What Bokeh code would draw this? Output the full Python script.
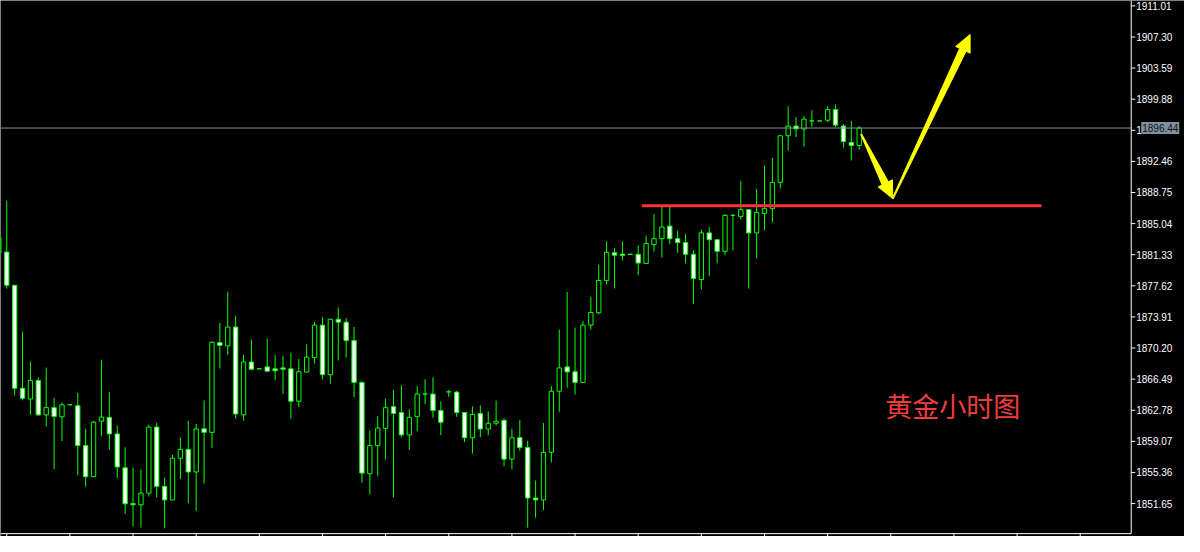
import math
from bokeh.plotting import figure
from bokeh.models import Range1d, ColumnDataSource
from bokeh.core.properties import value
from bokeh.embed import file_html
from bokeh.resources import INLINE

# ---------------- data (hourly gold candles) ----------------
bar_index = list(range(-1, 109))

opens = [1881.54, 1881.65, 1877.68, 1865.40, 1864.13, 1866.33, 1862.23, 1863.09, 1862.00, 1863.43,
         1863.32, 1858.57, 1854.86, 1861.47, 1861.93, 1859.96, 1855.91, 1851.65, 1851.50, 1852.89,
         1860.77, 1853.70, 1852.08, 1857.06, 1858.11, 1855.42, 1860.57, 1860.14, 1870.85, 1870.45,
         1872.70, 1862.23, 1868.53, 1867.72, 1867.95, 1867.72, 1867.83, 1867.72, 1863.85, 1867.33,
         1869.06, 1872.93, 1867.02, 1873.63, 1873.28, 1871.08, 1866.10, 1855.21, 1858.55, 1860.63,
         1863.20, 1862.51, 1859.84, 1862.04, 1864.71, 1864.71, 1862.74, 1864.97, 1864.94, 1862.51,
         1859.50, 1862.39, 1860.54, 1861.23, 1861.58, 1856.95, 1859.50, 1858.34, 1852.31, 1852.08,
         1857.76, 1865.05, 1867.95, 1867.37, 1866.10, 1872.93, 1874.41, 1878.26, 1881.57, 1881.40,
         1881.38, 1881.38, 1880.30, 1882.54, 1883.24, 1884.74, 1883.24, 1882.78, 1881.38, 1878.37,
         1883.93, 1883.12, 1881.73, 1886.02, 1885.90, 1886.71, 1883.93, 1886.25, 1886.83, 1889.96,
         1895.52, 1896.67, 1896.33, 1897.29, 1897.29, 1897.37, 1898.64, 1896.67, 1894.71, 1894.36]

highs = [1883.39, 1887.79, 1877.72, 1872.16, 1868.56, 1866.71, 1867.87, 1864.28, 1863.70, 1863.43,
         1864.86, 1860.57, 1861.50, 1868.80, 1864.97, 1860.92, 1858.37, 1855.94, 1855.71, 1861.04,
         1861.27, 1854.75, 1857.45, 1859.53, 1861.50, 1861.15, 1863.93, 1871.00, 1873.20, 1876.90,
         1874.01, 1869.38, 1871.23, 1867.72, 1871.34, 1869.38, 1869.26, 1869.61, 1868.91, 1870.65,
         1873.31, 1873.89, 1873.66, 1875.05, 1873.78, 1872.73, 1866.21, 1860.34, 1862.08, 1864.16,
         1865.21, 1865.78, 1862.89, 1865.67, 1866.48, 1866.71, 1863.82, 1865.21, 1865.09, 1862.54,
         1863.24, 1863.35, 1862.66, 1863.93, 1861.81, 1860.57, 1861.62, 1859.15, 1854.40, 1861.27,
         1865.67, 1872.39, 1876.90, 1872.62, 1873.43, 1876.32, 1880.15, 1882.93, 1882.12, 1882.93,
         1881.38, 1882.46, 1883.62, 1886.17, 1887.10, 1887.10, 1884.20, 1883.82, 1881.85, 1884.32,
         1884.66, 1883.16, 1886.17, 1886.17, 1890.11, 1886.75, 1889.18, 1891.96, 1892.89, 1895.55,
         1899.03, 1897.75, 1897.87, 1898.56, 1897.29, 1899.03, 1899.26, 1896.91, 1897.29, 1896.67]

lows = [1881.54, 1877.29, 1864.55, 1863.97, 1862.23, 1862.08, 1860.84, 1855.74, 1859.10, 1863.43,
        1855.05, 1853.66, 1854.86, 1859.68, 1858.06, 1854.70, 1850.42, 1848.91, 1848.79, 1852.50,
        1852.38, 1848.68, 1852.08, 1854.58, 1851.69, 1850.76, 1854.01, 1858.26, 1867.75, 1869.38,
        1861.77, 1861.53, 1867.52, 1867.72, 1867.33, 1866.40, 1864.74, 1861.77, 1863.16, 1867.33,
        1868.33, 1866.48, 1865.94, 1868.72, 1869.06, 1864.31, 1854.12, 1852.73, 1854.93, 1856.90,
        1852.38, 1859.56, 1858.06, 1860.26, 1863.50, 1861.88, 1859.80, 1864.36, 1862.00, 1858.99,
        1857.60, 1859.56, 1859.80, 1860.96, 1856.09, 1855.74, 1857.94, 1848.79, 1849.95, 1850.87,
        1856.55, 1862.58, 1865.47, 1864.66, 1866.10, 1872.39, 1874.21, 1877.75, 1877.29, 1880.64,
        1881.38, 1878.91, 1880.26, 1881.69, 1880.99, 1882.61, 1881.57, 1880.30, 1875.43, 1877.17,
        1878.79, 1880.34, 1881.27, 1881.85, 1885.56, 1877.29, 1880.88, 1884.24, 1885.16, 1889.22,
        1893.73, 1895.35, 1894.20, 1896.59, 1897.29, 1897.14, 1896.56, 1894.13, 1892.57, 1893.85]

closes = [1883.39, 1877.68, 1865.40, 1864.20, 1866.33, 1862.23, 1863.09, 1862.04, 1863.43, 1863.43,
          1858.57, 1854.86, 1861.35, 1861.96, 1859.96, 1856.02, 1851.62, 1851.50, 1852.89, 1860.77,
          1853.70, 1852.08, 1857.06, 1858.11, 1855.42, 1860.55, 1860.14, 1870.88, 1870.50, 1872.70,
          1862.34, 1868.53, 1867.67, 1867.72, 1867.44, 1867.49, 1867.67, 1863.85, 1867.37, 1869.11,
          1872.93, 1867.02, 1873.63, 1873.28, 1871.08, 1866.10, 1855.28, 1858.57, 1860.65, 1863.09,
          1862.39, 1859.84, 1861.93, 1864.71, 1864.71, 1862.74, 1861.35, 1864.97, 1862.51, 1859.50,
          1862.28, 1860.54, 1861.23, 1861.47, 1856.95, 1859.50, 1858.34, 1852.31, 1852.08, 1857.76,
          1865.05, 1867.83, 1867.35, 1866.10, 1872.93, 1874.44, 1878.26, 1881.62, 1881.27, 1881.25,
          1881.38, 1880.34, 1882.66, 1883.24, 1884.63, 1883.24, 1882.78, 1881.38, 1878.49, 1883.93,
          1883.12, 1881.73, 1886.02, 1886.02, 1886.71, 1883.93, 1886.37, 1886.83, 1889.96, 1895.52,
          1896.67, 1896.33, 1897.49, 1897.29, 1897.29, 1898.64, 1896.79, 1894.82, 1894.36, 1896.44]

price_ticks = [1911.01, 1907.30, 1903.59, 1899.88, 1896.17, 1892.46, 1888.75, 1885.04, 1881.33,
               1877.62, 1873.91, 1870.20, 1866.49, 1862.78, 1859.07, 1855.36, 1851.65]
time_ticks = [0, 8, 16, 24, 32, 40, 48, 56, 64, 72, 80, 88, 96, 104, 112, 120, 128, 136]

current_price = 1896.44
support_level = 1887.18
support_from, support_to = 80.46, 131.1
arrow_down = (108.25, 1895.70, 112.25, 1888.02)
arrow_up = (112.25, 1888.02, 122.05, 1907.60)
title_text = "黄金小时图"
title_pos = (111.3, 1863.40)

# ---------------- layout constants ----------------
W, H = 1184, 536
X0, X1 = -0.79, 149.21          # whole canvas is the frame
Y0, Y1 = 1847.72, 1911.65
AXIS_X = 142.46                 # right price scale position
AXIS_Y = 1848.06                # bottom time scale position
PXX = W / (X1 - X0)
PXY = H / (Y1 - Y0)

p = figure(width=W, height=H, output_backend="svg", toolbar_location=None,
           x_range=Range1d(X0, X1), y_range=Range1d(Y0, Y1),
           x_axis_location=None, y_axis_location=None,
           background_fill_color="#000000", border_fill_color="#000000",
           outline_line_color=None,
           min_border_left=0, min_border_top=0, min_border_right=0, min_border_bottom=0)
p.xgrid.visible = False
p.ygrid.visible = False

# ---------------- candles ----------------
src = ColumnDataSource(dict(
    x=bar_index, o=opens, h=highs, l=lows, c=closes,
    top=[max(o, c) for o, c in zip(opens, closes)],
    bot=[min(o, c) for o, c in zip(opens, closes)],
    fill=["#000000" if c >= o else "#ffffff" for o, c in zip(opens, closes)]))

p.segment(x0="x", y0="l", x1="x", y1="h", source=src, line_color="#00ff00", line_width=1)
p.vbar(x="x", top="top", bottom="bot", width=0.55, source=src,
       fill_color="fill", line_color="#00ff00", line_width=1)

# ---------------- current price line ----------------
p.segment(x0=[X0], y0=[current_price], x1=[AXIS_X], y1=[current_price],
          line_color="#8090a2", line_width=1)

# ---------------- support line ----------------
p.segment(x0=[support_from], y0=[support_level], x1=[support_to], y1=[support_level],
          line_color="#ff3333", line_width=3)


# ---------------- tapered arrows ----------------
def arrow_poly(xs, ys, xe, ye, w0=1.0, w1=7.0, hw=16.0, hl=17.0):
    X0p, Y0p, X1p, Y1p = xs * PXX, ys * PXY, xe * PXX, ye * PXY
    dx, dy = X1p - X0p, Y1p - Y0p
    L = math.hypot(dx, dy)
    ux, uy = dx / L, dy / L
    nx, ny = -uy, ux
    bx, by = X1p - ux * hl, Y1p - uy * hl
    pts = [(X0p + nx * w0 / 2, Y0p + ny * w0 / 2),
           (bx + nx * w1 / 2, by + ny * w1 / 2),
           (bx + nx * hw / 2, by + ny * hw / 2),
           (X1p, Y1p),
           (bx - nx * hw / 2, by - ny * hw / 2),
           (bx - nx * w1 / 2, by - ny * w1 / 2),
           (X0p - nx * w0 / 2, Y0p - ny * w0 / 2)]
    return [q[0] / PXX for q in pts], [q[1] / PXY for q in pts]


for a in (arrow_down, arrow_up):
    ax, ay = arrow_poly(*a)
    p.patch(ax, ay, fill_color="#ffff00", line_color="#ffff00", line_width=1)

# ---------------- chart caption ----------------
p.text(x=[title_pos[0]], y=[title_pos[1]], text=[title_text],
       text_font=value("Noto Sans CJK SC"), text_font_size="27px",
       text_color="#f03c3c", text_baseline="middle", text_align="left")

# ---------------- price scale (right) ----------------
p.segment(x0=[AXIS_X], y0=[AXIS_Y], x1=[AXIS_X], y1=[Y1], line_color="#ffffff", line_width=1)
p.segment(x0=[AXIS_X] * len(price_ticks), y0=price_ticks,
          x1=[AXIS_X + 4 / PXX] * len(price_ticks), y1=price_ticks,
          line_color="#ffffff", line_width=1)
p.text(x=[AXIS_X + 5 / PXX] * len(price_ticks), y=price_ticks,
       text=["%.2f" % t for t in price_ticks],
       text_font=value("Liberation Sans"), text_font_size="10px",
       text_color="#ffffff", text_baseline="middle", text_align="left")

# ---------------- time scale (bottom) ----------------
p.segment(x0=[X0], y0=[AXIS_Y], x1=[AXIS_X], y1=[AXIS_Y], line_color="#ffffff", line_width=1)
p.segment(x0=time_ticks, y0=[AXIS_Y] * len(time_ticks),
          x1=time_ticks, y1=[Y0] * len(time_ticks),
          line_color="#ffffff", line_width=1)

# ---------------- current price tag ----------------
p.rect(x=[AXIS_X + 29 / PXX], y=[current_price], width=38, height=12,
       width_units="screen", height_units="screen",
       fill_color="#8090a2", line_color=None)
p.text(x=[AXIS_X + 11 / PXX], y=[current_price], text=["%.2f" % current_price],
       text_font=value("Liberation Sans"), text_font_size="10px",
       text_color="#0c1118", text_baseline="middle", text_align="left")

open("out.html", "w").write(file_html(p, INLINE))
